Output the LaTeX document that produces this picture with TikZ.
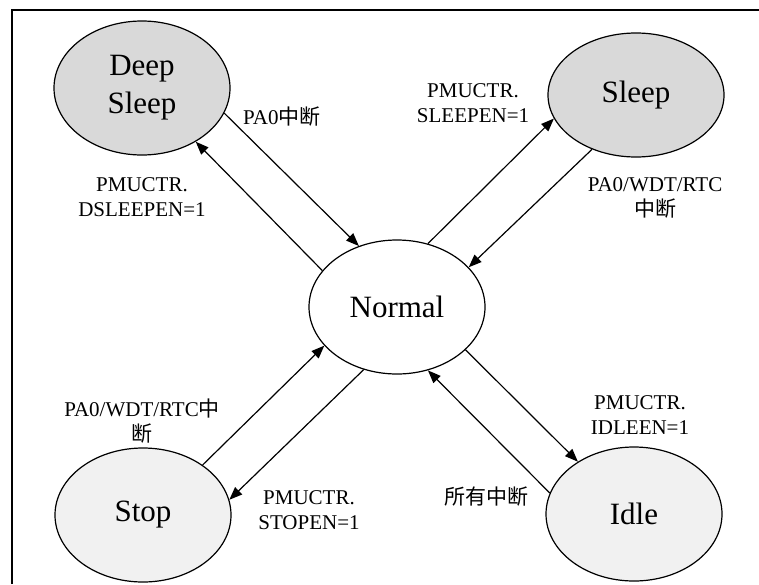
\documentclass[tikz,border=0pt]{standalone}
\usepackage{fontspec}
\setmainfont{Liberation Serif}
\newfontfamily\cjk{Noto Sans CJK SC}
\usepackage{tikz}
\usetikzlibrary{shapes.geometric,arrows.meta}

\definecolor{darkfill}{RGB}{217,217,217}
\definecolor{lightfill}{RGB}{241,241,241}

\tikzset{
  state/.style={ellipse,draw=black,line width=1.2pt,inner sep=0pt,
    minimum width=176pt,minimum height=134pt,align=center,
    font=\fontsize{31}{38}\selectfont},
  trans/.style={draw=black,line width=1.2pt,-{Triangle[length=13pt,width=10pt]}},
  lbl/.style={inner sep=0pt,align=center,font=\fontsize{21}{25}\selectfont},
}

\begin{document}
\begin{tikzpicture}[x=1pt,y=1pt,yscale=-1,xscale=1]
\useasboundingbox (0,0) rectangle (759,584);

%Straight Lines: frame
\draw [line width=1.5pt] (12,584) -- (12,10) -- (759,10) ;

%Shape: Ellipse
\node [state,fill=darkfill] (deep) at (142,88) {Deep\\Sleep};
%Shape: Ellipse
\node [state,fill=darkfill,minimum height=124pt] (sleep) at (636,95) {Sleep};
%Shape: Ellipse
\node [state,fill=white] (normal) at (397,307) {Normal};
%Shape: Ellipse
\node [state,fill=lightfill] (stop) at (143,515) {Stop};
%Shape: Ellipse
\node [state,fill=lightfill] (idle) at (634,514) {Idle};

%Straight Lines
\draw [trans] (deep.-17) -- (normal.122) ;
\draw [trans] (normal.154) -- (deep.-45) ;
%Straight Lines
\draw [trans] (normal.64) -- (sleep.196) ;
\draw [trans] (sleep.231) -- (normal.29) ;
%Straight Lines
\draw [trans] (stop.40) -- (normal.208) ;
\draw [trans] (normal.242) -- (stop.10) ;
%Straight Lines
\draw [trans] (normal.-32) -- (idle.137) ;
\draw [trans] (idle.166) -- (normal.-64) ;

% Text Node
\node [lbl,anchor=west] (l1) at (243,117) {PA0{\cjk 中断}};
% Text Node
\node [lbl] (l2) at (142,197) {PMUCTR.\\DSLEEPEN=1};
% Text Node
\node [lbl] (l3) at (473,103) {PMUCTR.\\SLEEPEN=1};
% Text Node
\node [lbl] (l4) at (655,198) {PA0/WDT/RTC\\{\cjk 中断}};
% Text Node
\node [lbl] (l5) at (142,421) {PA0/WDT/RTC{\cjk 中}\\{\cjk 断}};
% Text Node
\node [lbl] (l6) at (309,510) {PMUCTR.\\STOPEN=1};
% Text Node
\node [lbl] (l7) at (640,415) {PMUCTR.\\IDLEEN=1};
% Text Node
\node [lbl] (l8) at (486,497) {\cjk 所有中断};

\end{tikzpicture}
\end{document}
